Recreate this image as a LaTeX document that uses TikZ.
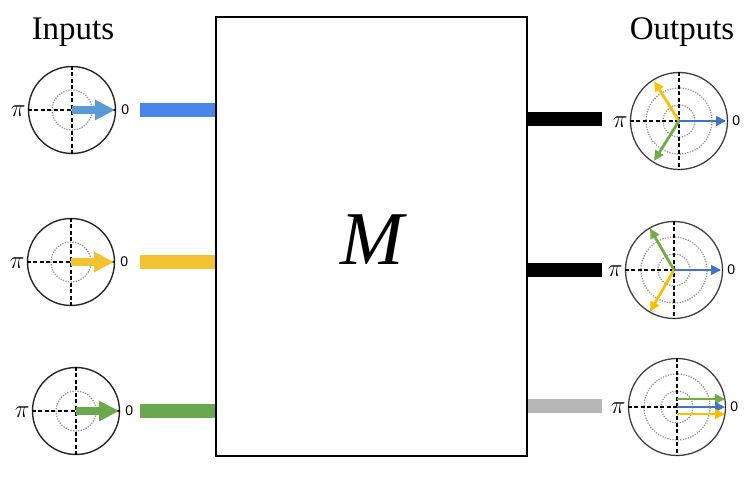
\documentclass[tikz,border=0pt]{standalone}
\usepackage{fontspec}
\setmainfont{Liberation Serif}
\newfontfamily\digitfont{Liberation Sans}
\usetikzlibrary{arrows.meta}
\definecolor{inblue}{HTML}{4A86E8}
\definecolor{arrblue}{HTML}{5B9BD5}
\definecolor{ablue}{HTML}{4472C4}
\definecolor{iyellow}{HTML}{F1C232}
\definecolor{ayellow}{HTML}{FFC000}
\definecolor{igreen}{HTML}{6AA84F}
\definecolor{agreen}{HTML}{70AD47}
\definecolor{bargray}{HTML}{B7B7B7}
\tikzset{
  dialin/.style={circle, draw=black!85, line width=1.4pt, minimum size=87pt, inner sep=0pt},
  dialout/.style={circle, draw=black!75, line width=1.3pt, minimum size=97pt, inner sep=0pt},
  cross/.style={dashed, dash pattern=on 4pt off 2.5pt, line width=1.3pt, black},
  ring/.style={dash pattern=on 1.3pt off 1.3pt, gray!85, line width=1.2pt},
  bigarrow/.style={line width=8pt, -{Triangle[length=20pt,width=19pt]}},
  smallarrow/.style={line width=2.8pt, -{Triangle[length=10pt,width=9.5pt]}},
  bar/.style={line width=14pt},
  zero/.style={font=\digitfont\fontsize{14}{14}\selectfont, inner sep=0pt},
  pilab/.style={font=\fontsize{26}{26}\selectfont, inner sep=0pt},
  title/.style={font=\fontsize{33}{33}\selectfont, inner sep=0pt}
}
\begin{document}
\begin{tikzpicture}[x=1pt,y=-1pt]
\useasboundingbox (0,0) rectangle (746,484);
% main box
\node[draw, line width=1.3pt, minimum width=311pt, minimum height=439pt, inner sep=0pt] (M) at (371.5,236.5) {};
\node[font=\fontsize{76}{76}\selectfont\itshape, inner sep=0pt] (Mlab) at (372,240) {M};
% titles
\node[title] (tin) at (73,32) {Inputs};
\node[title] (tout) at (682,32) {Outputs};

% input dials
\foreach \n/\cx/\cy/\col in {i1/72/110/arrblue, i2/71/262/iyellow, i3/76/411/igreen}{
  \node[dialin] (\n) at (\cx,\cy) {};
  \draw[ring] (\n.center) circle (20pt);
  \draw[cross] (\n.west) -- (\n.east);
  \draw[cross] (\n.north) -- (\n.south);
  \coordinate (\n tip) at ([xshift=-1pt]\n.east);
  \draw[bigarrow, \col] (\n.center) -- (\n tip);
  \node[zero, anchor=west] (\n z) at ([xshift=5pt]\n.east) {0};
  \node[pilab, anchor=east] (\n p) at ([xshift=-2pt,yshift=-1pt]\n.west) {$\pi$};
}
% input bars
\coordinate (b1) at (140,110);
\coordinate (b2) at (140,262);
\coordinate (b3) at (140,411);
\draw[bar, inblue] (b1) -- (b1 -| M.west);
\draw[bar, iyellow] (b2) -- (b2 -| M.west);
\draw[bar, igreen] (b3) -- (b3 -| M.west);

% output bars
\coordinate (c1) at (602,119);
\coordinate (c2) at (602,270);
\coordinate (c3) at (602,406);
\draw[bar, black] (c1 -| M.east) -- (c1);
\draw[bar, black] (c2 -| M.east) -- (c2);
\draw[bar, bargray] (c3 -| M.east) -- (c3);

% output dials
\foreach \n/\cx/\cy in {o1/679/121, o2/674/270, o3/677/407}{
  \node[dialout] (\n) at (\cx,\cy) {};
  \draw[ring] (\n.center) circle (16pt);
  \draw[ring] (\n.center) circle (33pt);
  \draw[cross] (\n.west) -- (\n.east);
  \draw[cross] (\n.north) -- (\n.south);
  \node[zero, anchor=west] (\n z) at ([xshift=4pt]\n.east) {0};
  \node[pilab, anchor=east] (\n p) at ([xshift=-2pt,yshift=-1pt]\n.west) {$\pi$};
}
% output 1 arrows (y axis points down: negative angles point up)
\draw[smallarrow, ayellow] (o1.center) -- ++(-122:47) coordinate (o1y);
\draw[smallarrow, agreen] (o1.center) -- ++(122:47) coordinate (o1g);
\draw[smallarrow, ablue] (o1.center) -- ([xshift=-2pt]o1.east);
% output 2 arrows
\draw[smallarrow, agreen] (o2.center) -- ++(-120:48) coordinate (o2g);
\draw[smallarrow, ayellow] (o2.center) -- ++(120:48) coordinate (o2y);
\draw[smallarrow, ablue] (o2.center) -- ([xshift=-2pt]o2.east);
% output 3 arrows
\draw[smallarrow, agreen] ([yshift=8pt]o3.center) -- ([xshift=-1pt,yshift=8pt]o3.east);
\draw[smallarrow, ablue] (o3.center) -- ([xshift=-1pt]o3.east);
\draw[smallarrow, ayellow] ([yshift=-7pt]o3.center) -- ([xshift=-1pt,yshift=-7pt]o3.east);
\end{tikzpicture}
\end{document}
